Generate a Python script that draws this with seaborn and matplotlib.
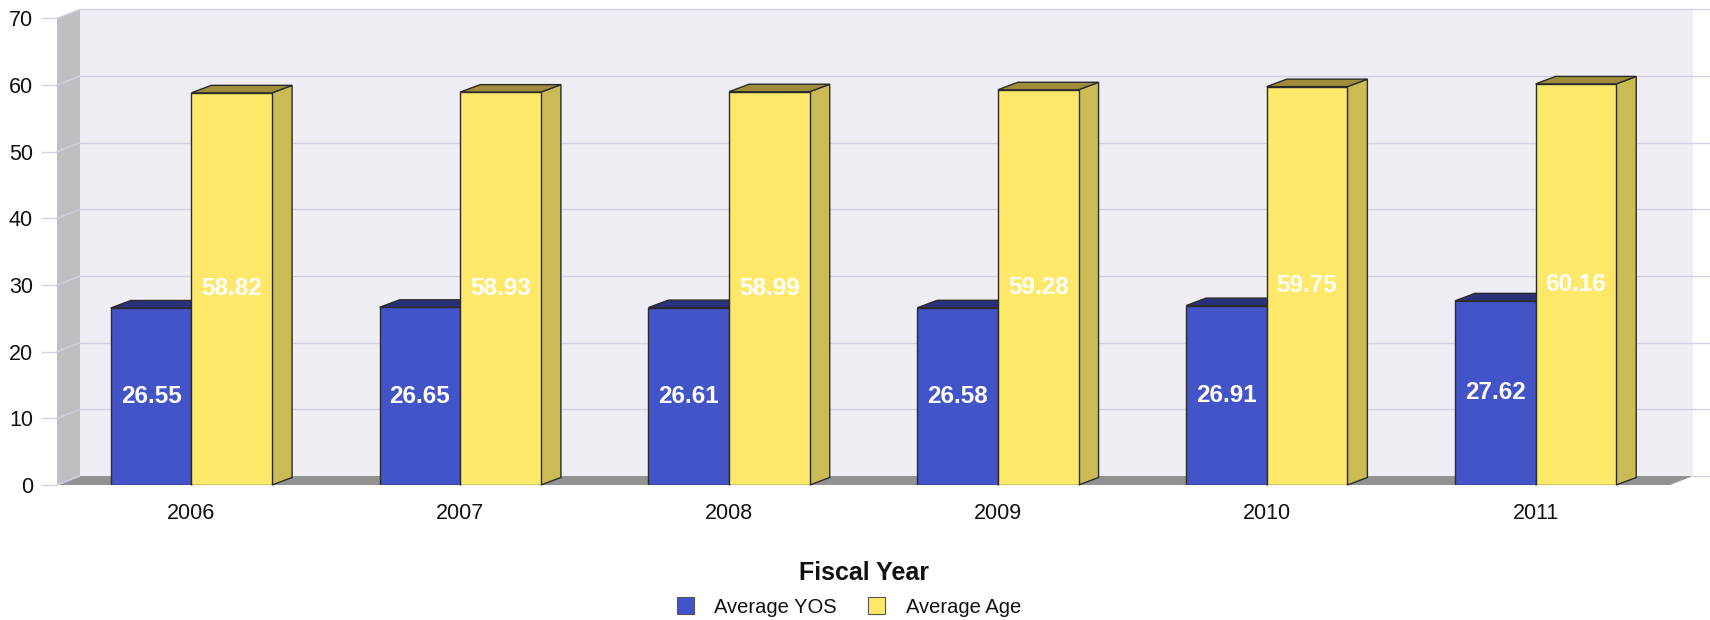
import numpy as np
import pandas as pd
import seaborn as sns
import matplotlib
matplotlib.use("Agg")
import matplotlib.pyplot as plt
from matplotlib.patches import Polygon, Patch
from matplotlib.lines import Line2D
from matplotlib.transforms import IdentityTransform

# ---- data ----
years = ["2006", "2007", "2008", "2009", "2010", "2011"]
series_names = ["Average YOS", "Average Age"]
avg_yos = [26.55, 26.65, 26.61, 26.58, 26.91, 27.62]
avg_age = [58.82, 58.93, 58.99, 59.28, 59.75, 60.16]
y_ticks = [0, 10, 20, 30, 40, 50, 60, 70]
x_title = "Fiscal Year"

df = pd.DataFrame({
    "year": years * 2,
    "value": avg_yos + avg_age,
    "series": [series_names[0]] * len(years) + [series_names[1]] * len(years),
})

sns.set_theme(style="white")
plt.rcParams["font.family"] = ["Liberation Sans", "DejaVu Sans"]

W, H = 1710, 620
fig = plt.figure(figsize=(W / 100, H / 100), dpi=100)
fig.patch.set_facecolor("white")
ax = fig.add_axes([57 / W, 1 - 485 / H, (1670 - 57) / W, (485 - 18.3) / H])

front_cols = ["#4353C8", "#FDE86A"]
top_cols = ["#29317B", "#9F8D3B"]
side_cols = ["#2F3B92", "#CBBB55"]
edge = "#2b2b2b"
grid_col = "#D2D0E2"

sns.barplot(data=df, x="year", y="value", hue="series", order=years,
            hue_order=series_names, palette=front_cols, saturation=1,
            width=0.6, edgecolor=edge, linewidth=1, legend=False, ax=ax,
            errorbar=None)

ax.set_xlim(-0.5, 5.5)
ax.set_ylim(0, 70)
ax.set_facecolor("none")
for s in ax.spines.values():
    s.set_visible(False)
ax.grid(False)
ax.set_xlabel("")
ax.set_ylabel("")
ax.set_yticks(y_ticks)
ax.set_yticklabels([str(t) for t in y_ticks])
ax.tick_params(axis="y", length=11.5, width=1, color=grid_col, pad=5.8,
               labelsize=15.5, labelcolor="#111111", left=True)
ax.tick_params(axis="x", length=0, pad=13, labelsize=15.5, labelcolor="#111111")

fig.canvas.draw()
ident = IdentityTransform()


def D(x, y):
    return ax.transData.transform((x, y))


wdx, wdy = 23, 9
bdx, bdy = 20, 7.5
x0, x1 = -0.5, 5.5
y0, y1 = 0, 70

fl0, fr0 = D(x0, y0), D(x1, y0)
fl1 = D(x0, y1)

# back wall
back = Polygon([fl0 + [wdx, wdy], fr0 + [wdx, wdy], D(x1, y1) + [wdx, wdy], fl1 + [wdx, wdy]],
               closed=True, facecolor="#EFEEF4", edgecolor="none", transform=ident,
               clip_on=False, zorder=0.5)
ax.add_artist(back)
# left wall
left = Polygon([fl0, fl1, fl1 + [wdx, wdy], fl0 + [wdx, wdy]], closed=True,
               facecolor="#BFBFC3", edgecolor="none", transform=ident,
               clip_on=False, zorder=0.6)
ax.add_artist(left)
# floor
floor = Polygon([fl0, fr0, fr0 + [wdx, wdy], fl0 + [wdx, wdy]], closed=True,
                facecolor="#929292", edgecolor="none", transform=ident,
                clip_on=False, zorder=0.7)
ax.add_artist(floor)

# grid lines on the walls
for t in y_ticks:
    p = D(x0, t)
    ln = Line2D([p[0], p[0] + wdx], [p[1], p[1] + wdy], color=grid_col, lw=1,
                transform=ident, clip_on=False, zorder=0.8)
    ax.add_artist(ln)
    if t > 0:
        ln2 = Line2D([p[0] + wdx, W], [p[1] + wdy, p[1] + wdy], color=grid_col, lw=1,
                     transform=ident, clip_on=False, zorder=0.8)
        ax.add_artist(ln2)
ln0 = Line2D([fr0[0] + wdx, W], [fr0[1] + wdy, fr0[1] + wdy], color=grid_col, lw=1,
             transform=ident, clip_on=False, zorder=0.8)
ax.add_artist(ln0)

# 3D faces of bars
for i, cont in enumerate(ax.containers):
    zf = 3 + 2 * i
    for bar in cont:
        bar.set_zorder(zf)
        bx, bw, bh = bar.get_x(), bar.get_width(), bar.get_height()
        tl, tr, br = D(bx, bh), D(bx + bw, bh), D(bx + bw, 0)
        top = Polygon([tl, tr, tr + [bdx, bdy], tl + [bdx, bdy]], closed=True,
                      facecolor=top_cols[i], edgecolor=edge, lw=1, transform=ident,
                      clip_on=False, zorder=zf - 0.5, joinstyle="miter")
        side = Polygon([br, tr, tr + [bdx, bdy], br + [bdx, bdy]], closed=True,
                       facecolor=side_cols[i], edgecolor=edge, lw=1, transform=ident,
                       clip_on=False, zorder=zf - 0.5, joinstyle="miter")
        ax.add_artist(side)
        ax.add_artist(top)
    labels = ax.bar_label(cont, fmt="%.2f", label_type="center", color="white",
                          fontsize=17.5, fontweight="bold")
    for lb in labels:
        lb.set_zorder(zf + 1)

# axis title
fig.text(863.5 / W, 1 - 580 / H, x_title, ha="center", va="baseline",
         fontsize=18, fontweight="bold", color="#111111")

# legend
handles = [Patch(facecolor=front_cols[k], edgecolor="#555555", lw=0.8, label=series_names[k])
           for k in range(2)]
fig.legend(handles=handles, loc="center", bbox_to_anchor=(849 / W, 1 - 607 / H),
           ncol=2, frameon=False, fontsize=14.5, handlelength=0.85, handleheight=0.85,
           handletextpad=1.0, columnspacing=1.55, borderpad=0, labelcolor="#111111")

fig.savefig("out.png", dpi=100)
